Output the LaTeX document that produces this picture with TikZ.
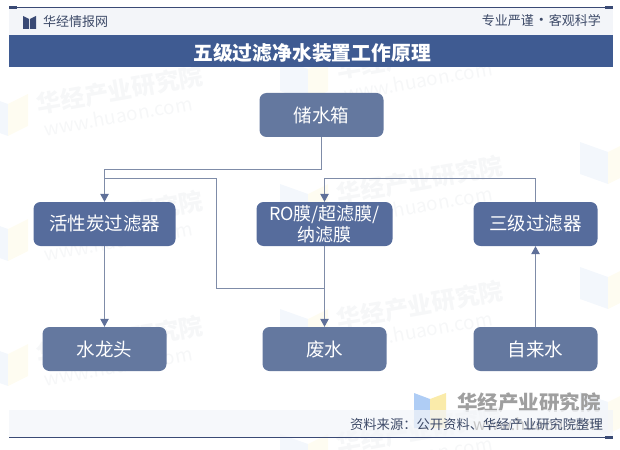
\documentclass[tikz,border=0pt]{standalone}
\usepackage{fontspec}
\setmainfont{Noto Sans CJK SC}
\usetikzlibrary{arrows.meta}
\definecolor{bandblue}{HTML}{3F5B92}
\definecolor{bandpale}{HTML}{F3F5F9}
\definecolor{rulenavy}{HTML}{3A4A75}
\definecolor{boxdark}{HTML}{566C9C}
\definecolor{boxlight}{HTML}{64789F}
\definecolor{linegray}{HTML}{7F8CA8}
\definecolor{tipblue}{HTML}{5F7099}
\definecolor{inknavy}{HTML}{3D4A68}
\definecolor{markgray}{HTML}{F6F7F8}
\definecolor{markblue}{HTML}{F3F7FC}
\definecolor{markyellow}{HTML}{FEFCF1}
\definecolor{logoblue}{HTML}{AFCDF5}
\definecolor{logoyellow}{HTML}{FAEBAA}
\tikzset{
  darkbox/.style={fill=boxdark, text=white, rounded corners=7pt, inner sep=0pt,
    minimum width=124pt, minimum height=44pt, align=center,
    font=\fontsize{18.5}{22}\selectfont},
  lightbox/.style={darkbox, fill=boxlight},
  plaintext/.style={inner sep=0pt, text=inknavy, font=\fontsize{13}{13}\selectfont},
  link/.style={draw=linegray, line width=1pt},
  flow/.style={link, -{Triangle[length=8pt,width=8.5pt,color=tipblue]}},
  markname/.style={text=markgray, rotate=10, font=\fontsize{24}{24}\bfseries\selectfont},
  markurl/.style={text=markgray, rotate=10, font=\fontsize{19}{19}\selectfont}
}
\begin{document}
\begin{tikzpicture}[x=1pt,y=-1pt]
\useasboundingbox (0,0) rectangle (620,449);
% watermarks
\foreach \wx/\wy in {0/90,0/215,0/340,300/55,300/180,300/305,300/430,600/138,600/263,600/388} {
  \fill[markblue] (\wx-20,\wy+4) -- (\wx+8,\wy+14) -- (\wx+8,\wy+46) -- (\wx-20,\wy+36) -- cycle;
  \fill[markyellow] (\wx+8,\wy+14) -- (\wx+28,\wy+4) -- (\wx+28,\wy+36) -- (\wx+8,\wy+46) -- cycle;
  \node[markname] at (\wx+120,\wy+0) {华经产业研究院};
  \node[markurl] at (\wx+118,\wy+26) {www.huaon.com};
}
% header and footer
\fill[bandpale] (9,7) rectangle (613,35);
\fill[bandblue] (9,35) rectangle (613,67);
\draw[rulenavy, line width=1pt] (9,7.5) -- (613,7.5);
\fill[rulenavy] (9,6) rectangle (17,9);
\fill[rulenavy] (605,6) rectangle (613,9);
\fill[rulenavy] (23,16) -- (29,19) -- (29,29) -- (23,29) -- cycle;
\fill[rulenavy] (36,16) -- (30,19) -- (30,29) -- (36,29) -- cycle;
\node[plaintext, anchor=west] (brand) at (43,22) {华经情报网};
\node[plaintext, anchor=east] (motto) at (601,21) {专业严谨{\fontsize{15}{13}\selectfont •}客观科学};
\node[text=white, font=\fontsize{19.8}{20}\bfseries\selectfont] (title) at (312,53) {五级过滤净水装置工作原理};
% logo and source
\fill[logoblue] (414,393) -- (430,399) -- (430,428) -- (414,428) -- cycle;
\fill[logoyellow] (430,399) -- (446,393) -- (446,428) -- (430,428) -- cycle;
\node[anchor=west, inner sep=0pt, text=gray!75, font=\fontsize{20.5}{21}\bfseries\selectfont] (logoname) at (457,403) {华经产业研究院};
\fill[bandpale, opacity=.75] (9,410) rectangle (613,437);
\node[anchor=east, inner sep=0pt, text=gray!45, font=\fontsize{16}{16}\selectfont] (logourl) at (600,424) {www.huaon.com};
\draw[rulenavy, line width=1pt] (9,437.5) -- (613,437.5);
\fill[rulenavy] (605,436) rectangle (613,439);
\node[plaintext, anchor=east, font=\fontsize{13.3}{13}\selectfont] (source) at (603,424) {资料来源：公开资料、华经产业研究院整理};
% boxes
\node[lightbox] (tank) at (321.5,115) {储水箱};
\node[darkbox, minimum width=142pt] (carbon) at (104.5,224) {活性炭过滤器};
\node[darkbox, minimum width=136pt, font=\fontsize{18}{21}\selectfont] (membrane) at (324.5,224) {RO膜/超滤膜/\\纳滤膜};
\node[darkbox] (third) at (535.5,224) {三级过滤器};
\node[lightbox] (faucet) at (104.5,349) {水龙头};
\node[lightbox] (waste) at (324.5,349) {废水};
\node[lightbox] (tapwater) at (535.5,349) {自来水};
% connectors
\coordinate (backstart) at (104.5,178.5);
\coordinate (backend) at (324.5,288.5);
\draw[flow] (tank.south) -- ++(0,32.5) -| (carbon.north);
\draw[link] (backstart) -- (216.5,178.5) -- (216.5,288.5) -- (backend);
\draw[flow] (membrane.south) -- (waste.north);
\draw[flow] (third.north) -- ++(0,-23.5) -| (membrane.north);
\draw[flow] (carbon.south) -- (faucet.north);
\draw[flow] (tapwater.north) -- (third.south);
\end{tikzpicture}
\end{document}
